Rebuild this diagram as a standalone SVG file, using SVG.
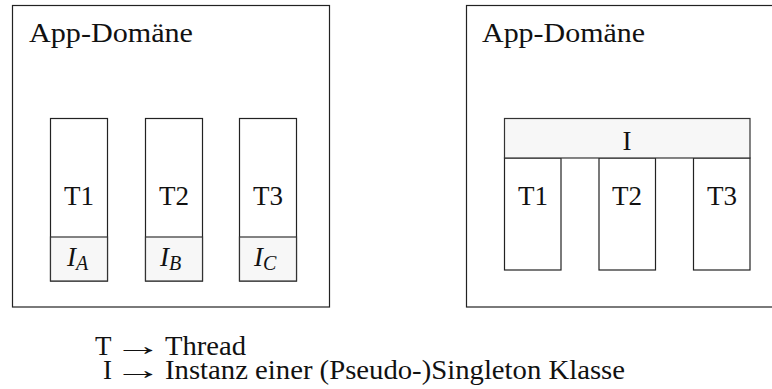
<svg xmlns="http://www.w3.org/2000/svg" width="772" height="389" viewBox="0 0 772 389" font-family="'Liberation Serif', 'DejaVu Serif', serif">
<style>
.box{fill:#fff;stroke:#222;stroke-width:1.2}
.inst{fill:#f7f7f7;stroke:#333;stroke-width:1.2}
text{font-family:'Liberation Serif','DejaVu Serif',serif;font-size:27px;fill:#111}
.c{text-anchor:middle}
.i{font-style:italic}
.s{font-size:20px}
</style>
<rect width="772" height="389" fill="#fff"/>
<g id="domain-left">
<rect class="box" x="12.5" y="5.5" width="317" height="301.5"/>
<text x="29" y="42" textLength="164" lengthAdjust="spacingAndGlyphs">App-Domäne</text>
</g>
<g id="domain-right">
<rect class="box" x="466.5" y="5.5" width="317" height="301.5"/>
<text x="482" y="42" textLength="163" lengthAdjust="spacingAndGlyphs">App-Domäne</text>
</g>
<g id="left-t1">
<rect class="box" x="50.5" y="118.5" width="57" height="162.5"/>
<rect class="inst" x="50.5" y="237" width="57" height="44"/>
<text class="c" x="79" y="205">T1</text>
<text x="67" y="266"><tspan class="i">I</tspan><tspan class="i s" dy="4">A</tspan></text>
</g>
<g id="left-t2">
<rect class="box" x="145.5" y="118.5" width="57" height="162.5"/>
<rect class="inst" x="145.5" y="237" width="57" height="44"/>
<text class="c" x="174" y="205">T2</text>
<text x="160" y="266"><tspan class="i">I</tspan><tspan class="i s" dy="4">B</tspan></text>
</g>
<g id="left-t3">
<rect class="box" x="239.5" y="118.5" width="57" height="162.5"/>
<rect class="inst" x="239.5" y="237" width="57" height="44"/>
<text class="c" x="268" y="205">T3</text>
<text x="254" y="266"><tspan class="i">I</tspan><tspan class="i s" dy="4">C</tspan></text>
</g>
<g id="right-t1">
<rect class="box" x="504.5" y="158" width="56.5" height="112"/>
<text class="c" x="533" y="205">T1</text>
</g>
<g id="right-t2">
<rect class="box" x="599" y="158" width="56.5" height="112"/>
<text class="c" x="627" y="205">T2</text>
</g>
<g id="right-t3">
<rect class="box" x="693.5" y="158" width="56.5" height="112"/>
<text class="c" x="722" y="205">T3</text>
</g>
<g id="right-instance">
<rect class="inst" x="504.5" y="118.5" width="245.5" height="39.5"/>
<text class="c" x="627" y="150">I</text>
</g>
<g id="connectors"></g>
<g id="legend">
<text x="95" y="355">T</text>
<text transform="translate(114,355) scale(1.8,1)" x="0" y="0">→</text>
<text x="165" y="355" textLength="81" lengthAdjust="spacingAndGlyphs">Thread</text>
<text x="103" y="379">I</text>
<text transform="translate(114,379) scale(1.8,1)" x="0" y="0">→</text>
<text x="165" y="379" textLength="460" lengthAdjust="spacingAndGlyphs">Instanz einer (Pseudo-)Singleton Klasse</text>
</g>
</svg>
